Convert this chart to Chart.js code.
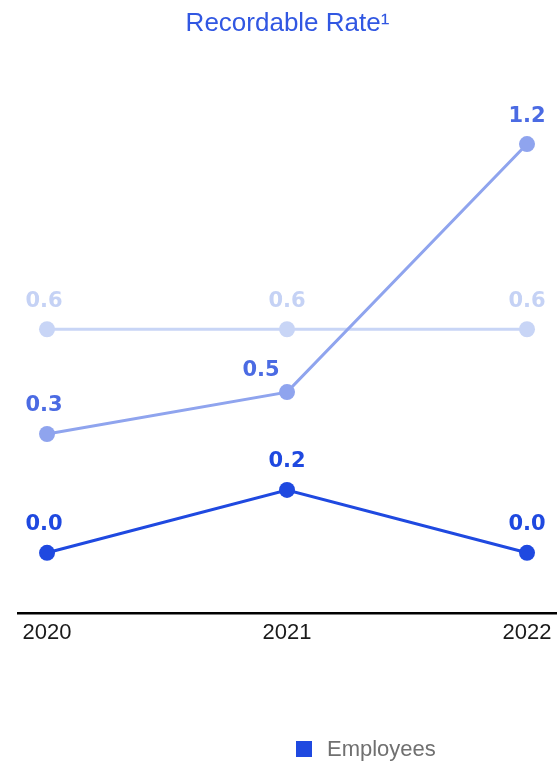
<!DOCTYPE html>
<html>
<head>
<meta charset="utf-8">
<script src="https://cdn.jsdelivr.net/npm/chart.js@4"></script>
<style>
  body { margin: 0; background: #fff; }
  #wrap { position: relative; width: 557px; height: 761px; }
  #legend { position: absolute; left: 296px; top: 736px; font: 22px "Liberation Sans", Arial, sans-serif; color: #707070; }
  #legend span.box { display: inline-block; width: 16px; height: 16px; background: #1f49e0; vertical-align: -1px; margin-right: 15px; }
</style>
</head>
<body>
<div id="wrap">
  <canvas id="chart" width="557" height="761"></canvas>
  <div id="legend"><span class="box"></span>Employees</div>
</div>
<script>
// values
const years = ['2020', '2021', '2022'];
const employees = [0.0, 0.18, 0.0];
const seriesB = [0.34, 0.46, 1.17];
const seriesC = [0.64, 0.64, 0.64];

const toPoints = vals => vals.map((v, i) => ({ x: i, y: v }));

// value labels above each point
const valueLabels = {
    id: 'valueLabels',
    afterDatasetsDraw(chart) {
        const ctx = chart.ctx;
        ctx.save();
        ctx.font = 'bold 21px "DejaVu Sans", sans-serif';
        ctx.textAlign = 'center';
        ctx.textBaseline = 'middle';
        chart.data.datasets.forEach((ds, di) => {
            const meta = chart.getDatasetMeta(di);
            meta.data.forEach((pt, i) => {
                let dx = i === 0 ? -3 : 0, dy = -28;
                if (di === 1 && i === 1) { dx = -26; dy = -22; }
                ctx.fillStyle = ds.labelColor;
                ctx.fillText(ds.data[i].y.toFixed(1), pt.x + dx, pt.y + dy);
            });
        });
        ctx.restore();
    }
};

const ctx = document.getElementById('chart').getContext('2d');
new Chart(ctx, {
    type: 'line',
    data: {
        datasets: [
            {
                label: 'Employees',
                data: toPoints(employees),
                borderColor: '#1f49e0',
                backgroundColor: '#1f49e0',
                labelColor: '#1f49e0',
                order: 0
            },
            {
                label: 'Series B',
                data: toPoints(seriesB),
                borderColor: '#8fa4ee',
                backgroundColor: '#8fa4ee',
                labelColor: '#4b6be3',
                order: 1
            },
            {
                label: 'Series C',
                data: toPoints(seriesC),
                borderColor: '#c8d5f6',
                backgroundColor: '#c8d5f6',
                labelColor: '#c5d2f5',
                order: 2
            }
        ]
    },
    options: {
        responsive: false,
        animation: false,
        layout: { autoPadding: false, padding: { left: 18, right: 0, bottom: 109 } },
        elements: {
            line: { borderWidth: 3, tension: 0 },
            point: { radius: 8, borderWidth: 0, hoverRadius: 8 }
        },
        scales: {
            x: {
                type: 'linear',
                min: -0.121,
                max: 2.125,
                grid: { display: false, drawTicks: false },
                border: { display: true, color: '#000', width: 2.5 },
                ticks: {
                    stepSize: 1,
                    includeBounds: false,
                    padding: 6,
                    color: '#1a1a1a',
                    font: { family: '"Liberation Sans", Arial, sans-serif', size: 22 },
                    callback: v => years[v] ?? ''
                },
                // let the edge labels hang over instead of shrinking the plot
                afterFit(scale) {
                    scale.paddingLeft = 0;
                    scale.paddingRight = 0;
                }
            },
            y: {
                display: false,
                min: -0.174,
                max: 1.39
            }
        },
        plugins: {
            legend: { display: false },
            tooltip: { enabled: false },
            title: {
                display: true,
                text: 'Recordable Rate\u00B9',
                color: '#3157e2',
                font: { family: '"Liberation Sans", Arial, sans-serif', size: 26, weight: 'normal' },
                padding: { top: 8, bottom: 28 }
            }
        }
    },
    plugins: [valueLabels]
});
</script>
</body>
</html>
